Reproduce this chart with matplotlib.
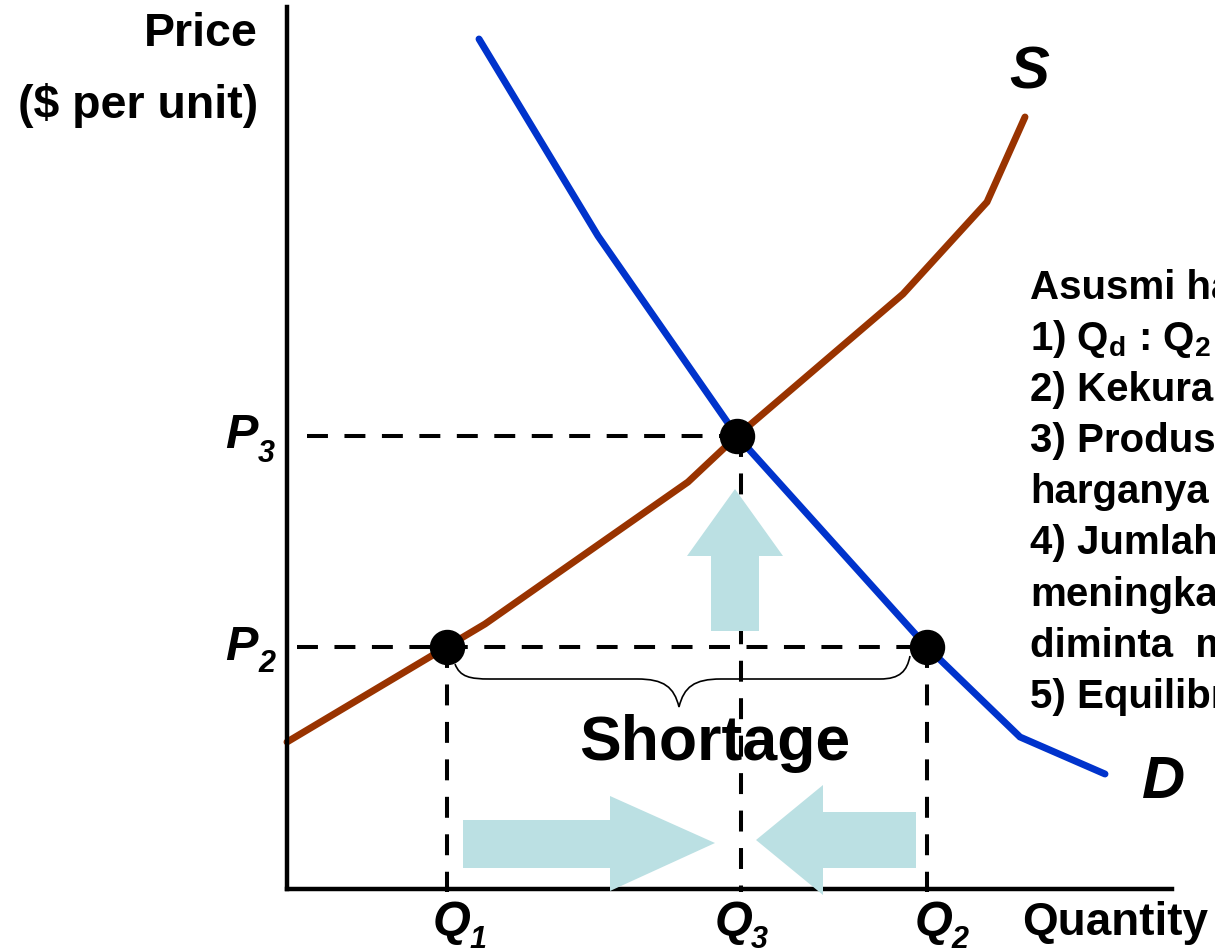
import matplotlib.pyplot as plt
from matplotlib.path import Path
from matplotlib.patches import PathPatch, Polygon

# curves (quantity, price)
demand_q = [1.92, 3.11, 4.50, 6.40, 7.33, 8.18]
demand_p = [8.50, 6.53, 4.53, 2.42, 1.52, 1.15]
supply_q = [0.00, 1.98, 4.01, 4.50, 6.16, 7.00, 7.38]
supply_p = [1.47, 2.65, 4.07, 4.53, 5.95, 6.87, 7.72]

q1, q3, q2 = 1.60, 4.50, 6.40
p2, p3 = 2.42, 4.53

notes = ["Asusmi harga", "1) Q$_{\\mathbf{d}}$ : Q$_{\\mathbf{2}}$", "2) Kekurangan",
         "3) Produsen", "harganya", "4) Jumlah", "meningkat",
         "diminta  menurun", "5) Equilibrium"]

plt.rcParams['font.family'] = 'Liberation Sans'
plt.rcParams['font.weight'] = 'bold'
plt.rcParams['mathtext.fontset'] = 'custom'
plt.rcParams['mathtext.rm'] = 'Liberation Sans:bold'
plt.rcParams['mathtext.bf'] = 'Liberation Sans:bold'

fig = plt.figure(figsize=(12.15, 9.53), dpi=100)
ax = fig.add_axes([0, 0, 1, 1])
ax.set_xlim(-2.87, 9.28)
ax.set_ylim(-0.63, 8.90)
ax.set_xticks([])
ax.set_yticks([])
for s in ['top', 'right']:
    ax.spines[s].set_visible(False)
ax.spines['left'].set_position(('data', 0))
ax.spines['bottom'].set_position(('data', 0))
ax.spines['left'].set_bounds(0, 8.82)
ax.spines['bottom'].set_bounds(0, 8.85)
ax.spines['left'].set_linewidth(3.2)
ax.spines['bottom'].set_linewidth(3.2)
ax.patch.set_visible(False)

dash = dict(color='black', lw=2.9, linestyle=(0, (5.2, 4.1)), dash_capstyle='butt')
ax.plot([0.20, q3], [p3, p3], **dash)
ax.plot([0.10, q2], [p2, p2], **dash)
ax.plot([q1, q1], [p2, -0.03], **dash)
ax.plot([q3 + 0.04, q3 + 0.04], [p3, -0.03], **dash)
ax.plot([q2, q2], [p2, -0.03], **dash)

ax.plot(supply_q, supply_p, color='#993300', lw=5, solid_capstyle='round', solid_joinstyle='miter')
ax.plot(demand_q, demand_p, color='#0033CC', lw=5, solid_capstyle='round', solid_joinstyle='miter')

# brace under the shortage
tip = 3.92
qa, qb = q1 + 0.08, q2 - 0.17
verts = [(qa, 2.25), (qa + 0.05, 2.12), (qa + 0.15, 2.10), (qa + 0.35, 2.10),
         (tip - 0.42, 2.10),
         (tip - 0.15, 2.10), (tip - 0.05, 2.02), (tip, 1.82),
         (tip + 0.05, 2.02), (tip + 0.15, 2.10), (tip + 0.42, 2.10),
         (qb - 0.3, 2.10),
         (qb - 0.1, 2.10), (qb - 0.03, 2.18), (qb, 2.33)]
codes = [Path.MOVETO, Path.CURVE4, Path.CURVE4, Path.CURVE4, Path.LINETO,
         Path.CURVE4, Path.CURVE4, Path.CURVE4, Path.CURVE4, Path.CURVE4, Path.CURVE4,
         Path.LINETO, Path.CURVE4, Path.CURVE4, Path.CURVE4]
ax.add_patch(PathPatch(Path(verts, codes), fill=False, lw=1.2, color='black'))

# light arrows
arrow_col = '#BBE0E3'
up = [(q3 - 0.26, 2.58), (q3 - 0.26, 3.33), (q3 - 0.50, 3.33), (q3 - 0.02, 4.00),
      (q3 + 0.46, 3.33), (q3 + 0.22, 3.33), (q3 + 0.22, 2.58)]
right = [(q1 + 0.16, 0.21), (q1 + 0.16, 0.69), (q1 + 1.63, 0.69), (q1 + 1.63, 0.93),
         (q3 - 0.22, 0.46), (q1 + 1.63, -0.02), (q1 + 1.63, 0.21)]
left = [(q2 - 0.11, 0.21), (q2 - 0.11, 0.77), (q2 - 1.04, 0.77), (q2 - 1.04, 1.04),
        (q3 + 0.19, 0.49), (q2 - 1.04, -0.06), (q2 - 1.04, 0.21)]
for shape in [up, right, left]:
    ax.add_patch(Polygon(shape, closed=True, color=arrow_col, lw=0, zorder=3))

ax.plot([q1, q3, q2], [p2, p3, p2], 'o', color='black', ms=24.5, zorder=5)

# labels
ax.text(-0.29, 8.44, 'Price', fontsize=33.5, ha='right', va='baseline')
ax.text(-0.29, 7.72, '($ per unit)', fontsize=33.5, ha='right', va='baseline')

it = dict(style='italic', va='baseline')
ax.text(-0.62, 4.42, 'P', fontsize=35, **it)
ax.text(-0.29, 4.28, '3', fontsize=22, **it)
ax.text(-0.62, 2.30, 'P', fontsize=35, **it)
ax.text(-0.29, 2.18, '2', fontsize=22, **it)
for qx, sub in [(1.46, '1'), (4.28, '3'), (6.28, '2')]:
    ax.text(qx, -0.45, 'Q', fontsize=35, **it)
    ax.text(qx + 0.36, -0.58, sub, fontsize=22, **it)

ax.text(7.35, -0.45, 'Quantity', fontsize=33, va='baseline')
ax.text(8.55, 0.92, 'D', fontsize=43, **it)
ax.text(7.22, 8.02, 'S', fontsize=43, **it)
ax.text(4.28, 1.30, 'Shortage', fontsize=45, ha='center', va='baseline')

for i, line in enumerate(notes):
    ax.text(7.43, 5.91 - i * 0.511, line, fontsize=29, va='baseline')

fig.savefig('out.png', dpi=100)
